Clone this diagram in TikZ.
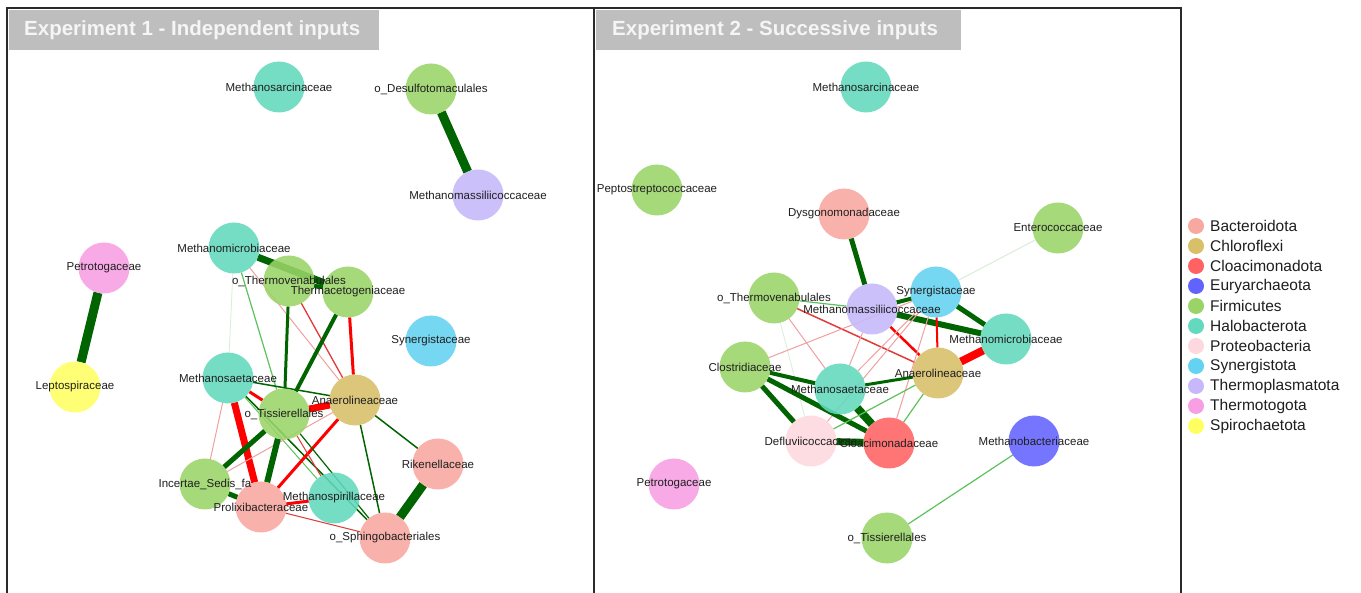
\documentclass[tikz,border=0pt]{standalone}
\usepackage{fontspec}
\setmainfont{Liberation Sans}
\pgfdeclarelayer{bg}
\pgfdeclarelayer{paper}
\pgfsetlayers{paper,bg,main}
\definecolor{bacter}{HTML}{F9A8A0}
\definecolor{chloro}{HTML}{D8BF68}
\definecolor{cloac}{HTML}{FF6262}
\definecolor{eury}{HTML}{6262FF}
\definecolor{firm}{HTML}{9AD468}
\definecolor{halo}{HTML}{64D9BE}
\definecolor{proteo}{HTML}{FDD8DF}
\definecolor{syner}{HTML}{64D2F2}
\definecolor{thermop}{HTML}{C6B8FB}
\definecolor{thermot}{HTML}{F89FE3}
\definecolor{spiro}{HTML}{FFFF62}
\definecolor{dkg}{HTML}{006400}
\definecolor{ltg}{HTML}{5CC25C}
\definecolor{fntg}{HTML}{D8EED8}
\definecolor{pk}{HTML}{F0A0A0}
\definecolor{rd}{HTML}{FF0000}
\definecolor{mrd}{HTML}{E23A3A}
\definecolor{frm}{HTML}{2A2A2A}
\definecolor{tbg}{HTML}{BEBEBE}
\begin{document}
\begin{tikzpicture}[x=1pt,y=-1pt,
  nd/.style={circle,minimum size=51pt,inner sep=0pt,outer sep=0pt,fill opacity=0.88},
  lbl/.style={font=\fontsize{11.5}{13}\selectfont,text=black!88,inner sep=0pt},
  lgd/.style={circle,minimum size=16pt,inner sep=0pt},
  lgt/.style={font=\fontsize{15.5}{17}\selectfont,text=black!88,inner sep=0pt,anchor=west},
  ttl/.style={font=\fontsize{20.5}{23}\selectfont\bfseries,text=white!96!black,inner sep=0pt,anchor=west},
  edg/.style={draw=dkg,line width=#1},
  elg/.style={draw=ltg,line width=#1},
  efg/.style={draw=fntg,line width=#1},
  ered/.style={draw=rd,line width=#1},
  emr/.style={draw=mrd,line width=#1},
  epk/.style={draw=pk,line width=#1},
  frame/.style={draw=frm,line width=2pt}]
\useasboundingbox (0,0) rectangle (1361,593);
\begin{pgfonlayer}{paper}
\fill[white] (0,0) rectangle (1361,593);
\end{pgfonlayer}
% frames
\draw[frame] (7,593) -- (7,8) -- (1181,8) -- (1181,593);
\draw[frame] (594,8) -- (594,593);
% titles
\fill[tbg] (9,10) rectangle (379,50);
\node[ttl] (t1) at (24,30) {Experiment 1 - Independent inputs};
\fill[tbg] (596,10) rectangle (961,50);
\node[ttl] (t2) at (612,30) {Experiment 2 - Successive inputs};

% ---------- left nodes
\node[nd,fill=halo] (aSarc) at (279,87) {};
\node[nd,fill=firm] (aDesulf) at (431,89) {};
\node[nd,fill=thermop] (aMmass) at (478,195) {};
\node[nd,fill=thermot] (aPetro) at (104,268) {};
\node[nd,fill=spiro] (aLepto) at (75,387) {};
\node[nd,fill=halo] (aMmicro) at (234,248) {};
\node[nd,fill=firm] (aTvena) at (289,281) {};
\node[nd,fill=firm] (aTacet) at (348,292) {};
\node[nd,fill=syner] (aSyn) at (431,341) {};
\node[nd,fill=halo] (aMsaet) at (228,378) {};
\node[nd,fill=chloro] (aAnaer) at (355,400) {};
\node[nd,fill=firm] (aTiss) at (284,414) {};
\node[nd,fill=bacter] (aRiken) at (438,464) {};
\node[nd,fill=firm] (aIncert) at (205,484) {};
\node[nd,fill=halo] (aMspir) at (334,498) {};
\node[nd,fill=bacter] (aProlix) at (261,507) {};
\node[nd,fill=bacter] (aSphing) at (385,538) {};

% ---------- right nodes
\node[nd,fill=halo] (bSarc) at (866,87) {};
\node[nd,fill=firm] (bPepto) at (657,190) {};
\node[nd,fill=bacter] (bDysg) at (844,214) {};
\node[nd,fill=firm] (bEntero) at (1058,228) {};
\node[nd,fill=firm] (bTvena) at (774,298) {};
\node[nd,fill=syner] (bSyn) at (936,292) {};
\node[nd,fill=thermop] (bMmass) at (872,309) {};
\node[nd,fill=halo] (bMmicro) at (1006,339) {};
\node[nd,fill=firm] (bClost) at (745,367) {};
\node[nd,fill=chloro] (bAnaer) at (938,373) {};
\node[nd,fill=halo] (bMsaet) at (840,389) {};
\node[nd,fill=proteo] (bDeflu) at (811,441) {};
\node[nd,fill=cloac] (bCloac) at (889,443) {};
\node[nd,fill=eury] (bMbact) at (1034,441) {};
\node[nd,fill=thermot] (bPetro) at (674,484) {};
\node[nd,fill=firm] (bTiss) at (887,538) {};

% ---------- edges (behind nodes, ending at node borders)
\begin{pgfonlayer}{bg}
\draw[edg=9] (aDesulf) -- (aMmass);
\draw[edg=9] (aPetro) -- (aLepto);
\draw[edg=7] (aMmicro) -- (aTacet);
\draw[edg=4] (aTvena) -- (aTacet);
\draw[elg=1.2] (aMmicro) -- (aTiss);
\draw[efg=0.8] (aMmicro) -- (aMsaet);
\draw[epk=1] (aMmicro) -- (aAnaer);
\draw[edg=3] (aTvena) -- (aTiss);
\draw[emr=1.3] (aTvena) -- (aAnaer);
\draw[edg=4] (aTacet) -- (aTiss);
\draw[ered=3] (aTacet) -- (aAnaer);
\draw[ered=3] (aMsaet) -- (aTiss);
\draw[edg=1.5] (aMsaet) -- (aAnaer);
\draw[ered=7] (aMsaet) -- (aProlix);
\draw[edg=1.5] (aMsaet) -- (aSphing);
\draw[elg=1] (aMsaet) -- (aMspir);
\draw[epk=1] (aMsaet) -- (aIncert);
\draw[ered=7] (aAnaer) -- (aTiss);
\draw[ered=3] (aAnaer) -- (aProlix);
\draw[epk=1] (aAnaer) -- (aIncert);
\draw[edg=1.5] (aAnaer) -- (aRiken);
\draw[edg=1.5] (aAnaer) -- (aSphing);
\draw[edg=5] (aTiss) -- (aIncert);
\draw[edg=6] (aTiss) -- (aProlix);
\draw[emr=1] (aTiss) -- (aMspir);
\draw[edg=1.2] (aTiss) -- (aSphing);
\draw[edg=5] (aIncert) -- (aProlix);
\draw[ered=3] (aProlix) -- (aMspir);
\draw[emr=1] (aProlix) -- (aSphing);
\draw[edg=9] (aRiken) -- (aSphing);
% right
\draw[edg=5] (bDysg) -- (bMmass);
\draw[efg=1] (bEntero) -- (bSyn);
\draw[elg=1.2] (bTvena) -- (bMmass);
\draw[emr=1.5] (bTvena) -- (bAnaer);
\draw[epk=1] (bTvena) -- (bMsaet);
\draw[efg=0.8] (bTvena) -- (bDeflu);
\draw[edg=4] (bMmass) -- (bSyn);
\draw[edg=6] (bMmass) -- (bMmicro);
\draw[edg=5] (bSyn) -- (bMmicro);
\draw[ered=2.5] (bMmass) -- (bAnaer);
\draw[ered=2] (bSyn) -- (bAnaer);
\draw[ered=8] (bMmicro) -- (bAnaer);
\draw[epk=1] (bClost) -- (bSyn);
\draw[epk=1] (bMsaet) -- (bSyn);
\draw[epk=1] (bDeflu) -- (bSyn);
\draw[epk=1] (bCloac) -- (bSyn);
\draw[epk=1] (bMsaet) -- (bMmass);
\draw[edg=4] (bClost) -- (bMsaet);
\draw[edg=5] (bClost) -- (bDeflu);
\draw[edg=5] (bClost) -- (bCloac);
\draw[edg=3] (bMsaet) -- (bAnaer);
\draw[edg=8] (bMsaet) -- (bCloac);
\draw[edg=7] (bDeflu) -- (bCloac);
\draw[elg=1.2] (bDeflu) -- (bAnaer);
\draw[elg=1.2] (bCloac) -- (bAnaer);
\draw[elg=1.2] (bMbact) -- (bTiss);
\end{pgfonlayer}

% ---------- labels left
\node[lbl] (laSarc) at (aSarc) {Methanosarcinaceae};
\node[lbl] (laDesulf) at (aDesulf) {o\_Desulfotomaculales};
\node[lbl] (laMmass) at (aMmass) {Methanomassiliicoccaceae};
\node[lbl] (laPetro) at (aPetro) {Petrotogaceae};
\node[lbl] (laLepto) at (aLepto) {Leptospiraceae};
\node[lbl] (laMmicro) at (aMmicro) {Methanomicrobiaceae};
\node[lbl] (laTvena) at (aTvena) {o\_Thermovenabulales};
\node[lbl] (laTacet) at (aTacet) {Thermacetogeniaceae};
\node[lbl] (laSyn) at (aSyn) {Synergistaceae};
\node[lbl] (laMsaet) at (aMsaet) {Methanosaetaceae};
\node[lbl] (laAnaer) at (aAnaer) {Anaerolineaceae};
\node[lbl] (laTiss) at (aTiss) {o\_Tissierellales};
\node[lbl] (laRiken) at (aRiken) {Rikenellaceae};
\node[lbl] (laIncert) at (aIncert) {Incertae\_Sedis\_fa};
\node[lbl] (laMspir) at (aMspir) {Methanospirillaceae};
\node[lbl] (laProlix) at (aProlix) {Prolixibacteraceae};
\node[lbl] (laSphing) at (aSphing) {o\_Sphingobacteriales};
% labels right
\node[lbl] (lbSarc) at (bSarc) {Methanosarcinaceae};
\node[lbl] (lbPepto) at (bPepto) {Peptostreptococcaceae};
\node[lbl] (lbDysg) at (bDysg) {Dysgonomonadaceae};
\node[lbl] (lbEntero) at (bEntero) {Enterococcaceae};
\node[lbl] (lbTvena) at (bTvena) {o\_Thermovenabulales};
\node[lbl] (lbSyn) at (bSyn) {Synergistaceae};
\node[lbl] (lbMmass) at (bMmass) {Methanomassiliicoccaceae};
\node[lbl] (lbMmicro) at (bMmicro) {Methanomicrobiaceae};
\node[lbl] (lbClost) at (bClost) {Clostridiaceae};
\node[lbl] (lbAnaer) at (bAnaer) {Anaerolineaceae};
\node[lbl] (lbMsaet) at (bMsaet) {Methanosaetaceae};
\node[lbl] (lbDeflu) at (bDeflu) {Defluviicoccaceae};
\node[lbl] (lbCloac) at (bCloac) {Cloacimonadaceae};
\node[lbl] (lbMbact) at (bMbact) {Methanobacteriaceae};
\node[lbl] (lbPetro) at (bPetro) {Petrotogaceae};
\node[lbl] (lbTiss) at (bTiss) {o\_Tissierellales};

% ---------- legend
\foreach \c/\t [count=\i from 0] in {bacter/Bacteroidota,chloro/Chloroflexi,cloac/Cloacimonadota,eury/Euryarchaeota,firm/Firmicutes,halo/Halobacterota,proteo/Proteobacteria,syner/Synergistota,thermop/Thermoplasmatota,thermot/Thermotogota,spiro/Spirochaetota}{
  \node[lgd,fill=\c] (g\i) at (1196,226+20*\i) {};
  \node[lgt] (gt\i) at (1210,226+20*\i) {\t};
}
\end{tikzpicture}
\end{document}
